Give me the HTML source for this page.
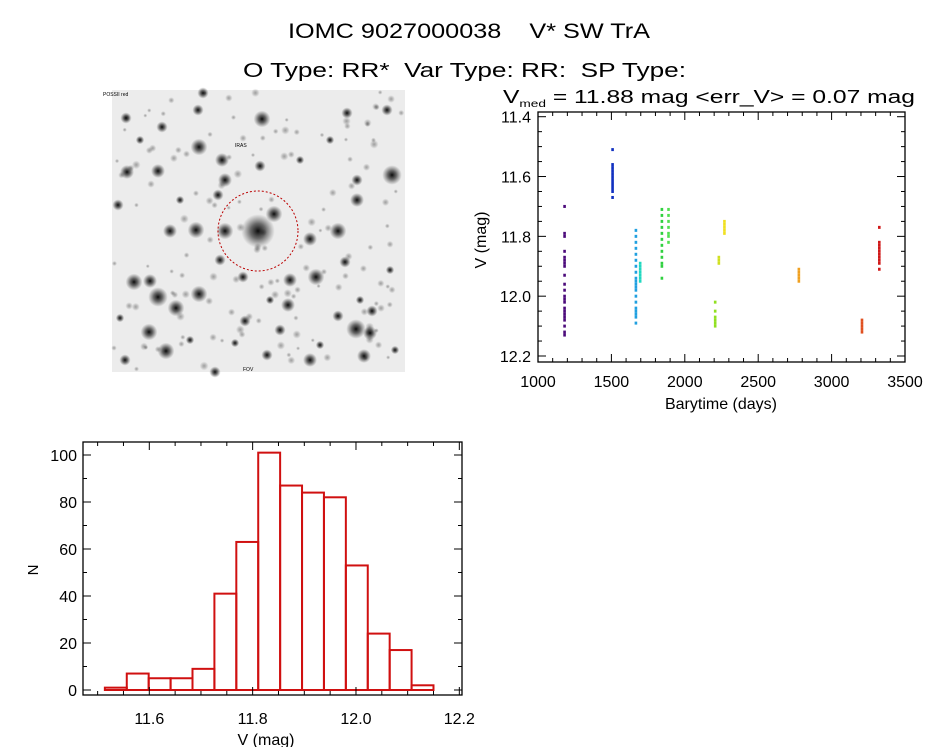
<!DOCTYPE html>
<html><head><meta charset="utf-8"><style>
body{margin:0;background:#fff;width:944px;height:747px;overflow:hidden;font-family:"Liberation Sans",sans-serif}
svg text{font-family:"Liberation Sans",sans-serif;fill:#000;white-space:pre}
</style></head><body>
<svg id="s" width="944" height="747" viewBox="0 0 944 747">
<defs>
<radialGradient id="star"><stop offset="0" stop-color="#000" stop-opacity="0.95"/><stop offset="0.45" stop-color="#111" stop-opacity="0.6"/><stop offset="1" stop-color="#333" stop-opacity="0"/></radialGradient>
</defs>
<text x="288" y="38" font-size="21" textLength="362" lengthAdjust="spacingAndGlyphs">IOMC 9027000038    V* SW TrA</text>
<text x="243" y="77" font-size="20" textLength="443" lengthAdjust="spacingAndGlyphs">O Type: RR*  Var Type: RR:  SP Type:</text>
<g id="img">
<rect x="112" y="90" width="293" height="282" fill="#ececec"/>
</g>
<g id="lc"></g>
<g id="hist"></g>
</svg>
<script>
const NS="http://www.w3.org/2000/svg";
function mk(p,t,a){const e=document.createElementNS(NS,t);for(const k in a)e.setAttribute(k,a[k]);p.appendChild(e);return e;}
// ---- sky image (decorative) ----
const img=document.getElementById('img');
const stars=[[258,231,12],[274,214,6],[225,231,6],[196,230,6],[170,231,5],[162,127,4],[158,171,5],[127,172,5],[222,160,5],[225,180,5],[218,195,4],[260,166,4],[262,119,6],[203,93,4],[198,110,4],[126,118,4],[199,147,6],[290,280,5],[316,277,6],[310,239,5],[338,231,6],[357,200,5],[392,175,7],[387,110,4],[347,113,4],[134,282,6],[158,297,7],[176,308,6],[150,281,5],[199,294,6],[149,332,6],[166,351,6],[356,329,7],[370,333,5],[364,356,5],[245,321,4],[288,305,5],[267,355,4],[310,360,5],[215,372,4],[125,360,4],[243,277,4],[357,180,4],[280,330,4],[338,316,4],[372,311,4],[220,260,4],[300,160,3],[330,140,3],[140,140,3],[118,205,4],[180,200,3],[270,300,3],[395,350,3],[320,345,3],[235,343,3],[190,340,3],[120,318,3],[390,270,3],[345,262,4],[360,300,3]];
let seed=7;const rnd=()=>{seed=(seed*16807)%2147483647;return seed/2147483647;};
for(let i=0;i<140;i++){mk(img,'circle',{cx:114+rnd()*289,cy:92+rnd()*278,r:2+rnd()*2.5,fill:'url(#star)',opacity:0.35});}
stars.forEach(s=>{mk(img,'circle',{cx:s[0],cy:s[1],r:s[2]*1.4,fill:'url(#star)'});});
mk(img,'circle',{cx:258,cy:231,r:40,fill:'none',stroke:'#b00','stroke-width':1,'stroke-dasharray':'2,2'});
mk(img,'text',{x:235,y:147,'font-size':5,fill:'#c00'}).textContent='IRAS';
mk(img,'text',{x:103,y:96,'font-size':5,fill:'#00a'}).textContent='POSSII red';
mk(img,'text',{x:243,y:371,'font-size':5,fill:'#00a'}).textContent='FOV';

// ---- light curve data ----
const lcTimes=[1181,1508,1667,1696,1844,1889,2207,2232,2270,2777,3207,3325];
const lcColors=['#4b0a7a','#1030c0','#20a0e0','#20d8c0','#30d040','#50e050','#90e020','#d0e020','#f0e020','#f0a020','#e05020','#d01818'];
const lcMags=[
[11.70,11.79,11.80,11.85,11.87,11.88,11.89,11.90,11.93,11.96,11.98,12.00,12.01,12.02,12.04,12.05,12.06,12.07,12.08,12.10,12.12,12.13],
[11.51,11.56,11.57,11.58,11.59,11.60,11.61,11.62,11.63,11.64,11.65,11.67],
[11.78,11.80,11.82,11.84,11.86,11.88,11.90,11.92,11.94,11.95,11.96,11.97,11.98,12.00,12.02,12.04,12.05,12.06,12.07,12.09],
[11.89,11.90,11.91,11.92,11.93,11.94,11.95],
[11.71,11.73,11.75,11.77,11.79,11.81,11.83,11.85,11.87,11.89,11.90,11.94],
[11.71,11.73,11.75,11.77,11.79,11.80,11.82],
[12.02,12.05,12.07,12.08,12.09,12.10],
[11.87,11.88,11.89],
[11.75,11.76,11.77,11.78,11.79],
[11.91,11.92,11.93,11.94,11.95],
[12.08,12.09,12.10,12.11,12.12],
[11.77,11.82,11.83,11.84,11.85,11.86,11.87,11.88,11.89,11.91]];
const lcXTicks=[1000,1500,2000,2500,3000,3500];
const lcYTicks=[11.4,11.6,11.8,12.0,12.2];
const L={l:538,r:905,t:112,b:362};
const lx=v=>L.l+(v-1000)/2500*(L.r-L.l);
const ly=v=>116.7+(v-11.4)/0.8*(356-116.7);
const lc=document.getElementById('lc');
lcTimes.forEach((t,i)=>{lcMags[i].forEach(m=>{
 const d=mk(lc,'rect',{x:lx(t)-1.3,y:ly(m)-1.5,width:2.6,height:3,fill:lcColors[i]});
 
 
});});
mk(lc,'rect',{x:L.l,y:L.t,width:L.r-L.l,height:L.b-L.t,fill:'none',stroke:'#000','stroke-width':1.3});
for(let v=1000;v<=3500;v+=100){const big=v%500==0,x=lx(v);
 mk(lc,'line',{x1:x,x2:x,y1:L.b,y2:L.b-(big?8:4),stroke:'#000'});
 mk(lc,'line',{x1:x,x2:x,y1:L.t,y2:L.t+(big?8:4),stroke:'#000'});}
lcXTicks.forEach(v=>{const e=mk(lc,'text',{x:lx(v),y:387,'font-size':16,'text-anchor':'middle'});e.textContent=v;
 });
for(let k=0;k<=16;k++){const v=11.4+k*0.05,y=ly(v),big=k%4==0;
 mk(lc,'line',{x1:L.l,x2:L.l+(big?8:4),y1:y,y2:y,stroke:'#000'});
 mk(lc,'line',{x1:L.r,x2:L.r-(big?8:4),y1:y,y2:y,stroke:'#000'});}
lcYTicks.forEach(v=>{const e=mk(lc,'text',{x:531,y:ly(v)+6,'font-size':16,'text-anchor':'end'});e.textContent=v.toFixed(1);
 });
let e=mk(lc,'text',{x:721,y:409,'font-size':16,'text-anchor':'middle'});e.textContent='Barytime (days)';

e=mk(lc,'text',{x:0,y:0,'font-size':16,'text-anchor':'middle',transform:'translate(486,240) rotate(-90)'});e.textContent='V (mag)';

e=mk(lc,'text',{x:503,y:103,'font-size':18,textLength:412,lengthAdjust:'spacingAndGlyphs'});e.innerHTML='V<tspan font-size="10" dy="4">med</tspan><tspan dy="-4"> = 11.88 mag &lt;err_V&gt; = 0.07 mag</tspan>';


// ---- histogram data ----
const binStart=11.514, binWidth=0.0424;
const counts=[1,7,5,5,9,41,63,101,87,84,82,53,24,17,2];
const hXTicks=[11.6,11.8,12.0,12.2];
const hYTicks=[0,20,40,60,80,100];
const H={l:83,r:462,t:442,b:695};
const hx=v=>149.3+(v-11.6)*516.7;
const hy=v=>690-v*2.35;
const hist=document.getElementById('hist');
counts.forEach((c,i)=>{const x0=hx(binStart+i*binWidth),x1=hx(binStart+(i+1)*binWidth);
 const b=mk(hist,'rect',{x:x0,y:hy(c),width:x1-x0,height:hy(0)-hy(c),fill:'none',stroke:'#d01010','stroke-width':2});
 });
mk(hist,'rect',{x:H.l,y:H.t,width:H.r-H.l,height:H.b-H.t,fill:'none',stroke:'#000','stroke-width':1.3});
for(let k=-2;k<=12;k++){const v=11.6+k*0.05,x=hx(v);if(x<H.l||x>H.r)continue;const big=k%4==0;
 mk(hist,'line',{x1:x,x2:x,y1:H.b,y2:H.b-(big?8:4),stroke:'#000'});
 mk(hist,'line',{x1:x,x2:x,y1:H.t,y2:H.t+(big?8:4),stroke:'#000'});}
hXTicks.forEach(v=>{const t=mk(hist,'text',{x:hx(v),y:724,'font-size':16,'text-anchor':'middle'});t.textContent=v.toFixed(1);
 });
for(let v=0;v<=100;v+=10){const y=hy(v),big=v%20==0;
 mk(hist,'line',{x1:H.l,x2:H.l+(big?8:4),y1:y,y2:y,stroke:'#000'});
 mk(hist,'line',{x1:H.r,x2:H.r-(big?8:4),y1:y,y2:y,stroke:'#000'});}
hYTicks.forEach(v=>{const t=mk(hist,'text',{x:77,y:hy(v)+6,'font-size':16,'text-anchor':'end'});t.textContent=v;
 });
e=mk(hist,'text',{x:266,y:745,'font-size':16,'text-anchor':'middle'});e.textContent='V (mag)';

e=mk(hist,'text',{x:0,y:0,'font-size':15,'text-anchor':'middle',transform:'translate(38,570) rotate(-90)'});e.textContent='N';

</script>
</body></html>
